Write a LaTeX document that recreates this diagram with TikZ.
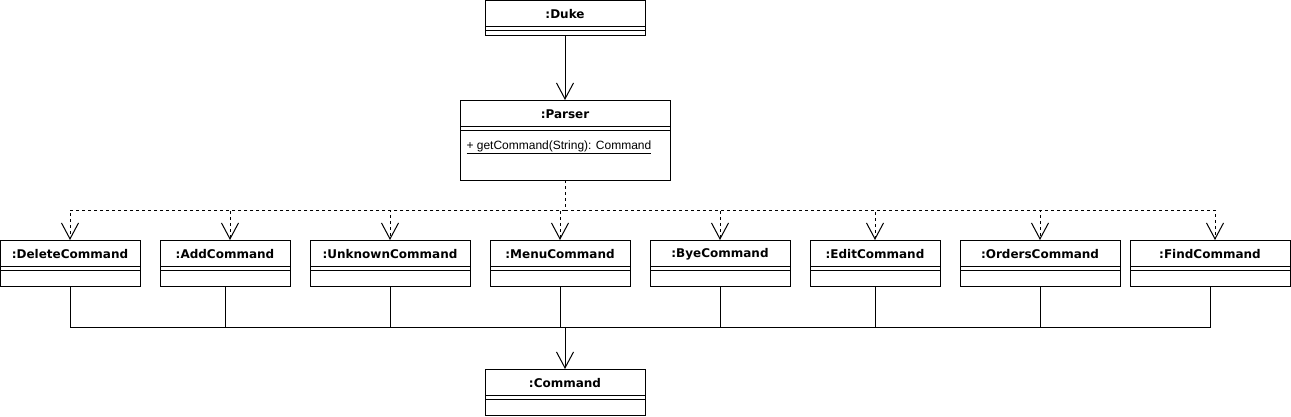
\documentclass[tikz,border=0pt]{standalone}
\usepackage{fontspec}
\setmainfont{DejaVu Sans}
\newfontfamily\methodfont{Liberation Sans}
\usetikzlibrary{arrows.meta,calc,positioning}

\begin{document}
\begin{tikzpicture}[x=1pt,y=-1pt,line width=1pt,
    >={Straight Barb[length=16pt,width=17pt]},
    cls/.style={draw,rectangle,inner sep=0pt,outer sep=0pt},
    hd/.style={font=\bfseries\fontsize{12}{14}\selectfont,anchor=north,inner sep=0pt,minimum height=27pt},
    dep/.style={->,dash pattern=on 3pt off 3pt}]
  \useasboundingbox (0,0) rectangle (1291,416);
  \node (duke) [cls,minimum width=160pt,minimum height=35pt,label={[hd]north:{:Duke}}] at (565,17.5) {};
  \node (parser) [cls,minimum width=210pt,minimum height=80pt,label={[hd]north:{:Parser}}] at (565,140) {};
  \node (getcmd) [anchor=west,inner sep=0pt,font=\methodfont\fontsize{12}{14}\selectfont] at (466,147) {\underline{+ getCommand(String): Command}};
  \node (command) [cls,minimum width=160pt,minimum height=46pt,label={[hd]north:{:Command}}] at (565,392) {};
  \coordinate (split) at (565,210);
  \coordinate (bus) at (565,327.5);
  \draw[->] (duke) -- (parser);
  \draw[dash pattern=on 3pt off 3pt] (parser.south) -- (split);
  \foreach \n/\x/\w/\dx/\txt in {delete/70/140/0/:DeleteCommand,add/225/130/5/:AddCommand,
      unknown/390/160/0/:UnknownCommand,menu/560/140/0/:MenuCommand,bye/720/140/0/:ByeCommand,
      edit/875/130/0/:EditCommand,orders/1040/160/0/:OrdersCommand,find/1210/160/5/:FindCommand} {
    \node (\n) [cls,minimum width=\w pt,minimum height=46pt,label={[hd]north:{\txt}}] at (\x,263) {};
    \draw[dep] (split) -| ([xshift=\dx pt]\n.north);
    \draw (\n.south) |- (bus);
  }
  \draw[->] (bus) -- (command);
  % double separator under each header
  \foreach \n in {duke,parser,command,delete,add,unknown,menu,bye,edit,orders,find}
    \draw ([yshift=-26.5pt]\n.north west) -- ([yshift=-26.5pt]\n.north east)
          ([yshift=-30.5pt]\n.north west) -- ([yshift=-30.5pt]\n.north east);
\end{tikzpicture}
\end{document}
